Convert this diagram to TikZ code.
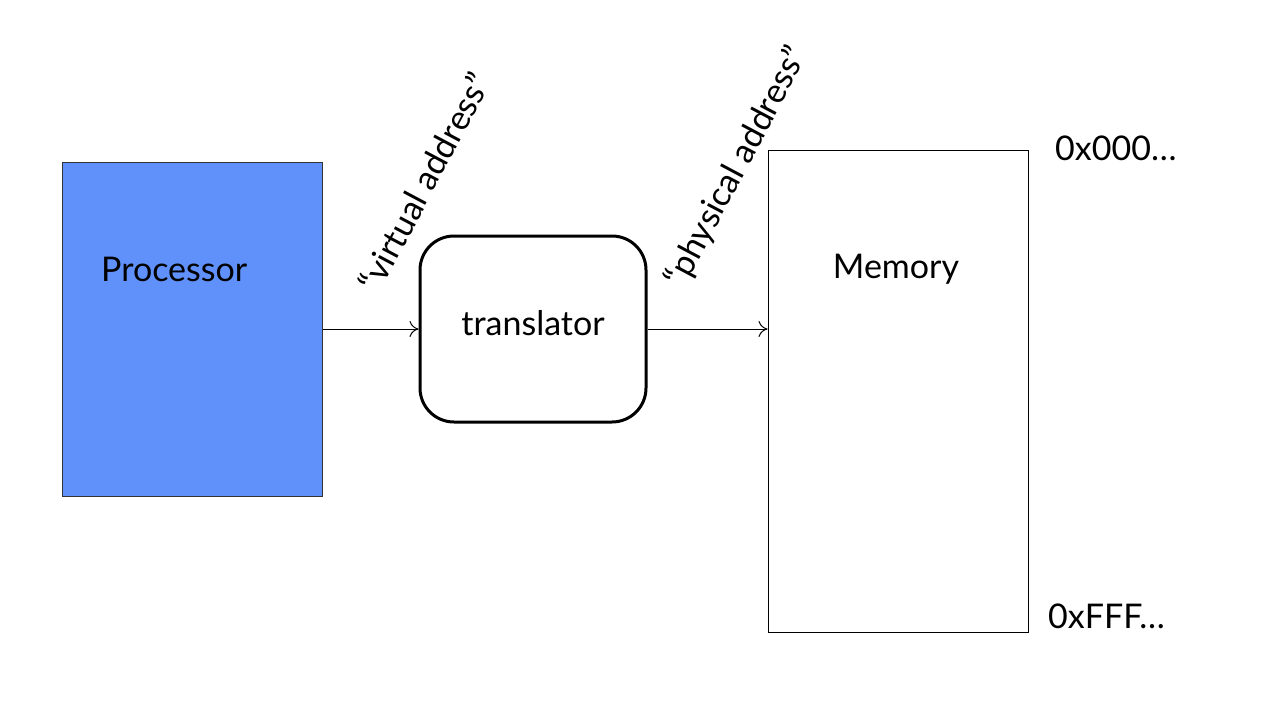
\documentclass[tikz,border=0pt]{standalone}
\usepackage{fontspec}
\setmainfont{Lato}
\usetikzlibrary{arrows.meta}
\begin{document}
\begin{tikzpicture}[x=1pt,y=-1pt,
  lbl/.style={font=\fontsize{34}{38}\selectfont, inner sep=0pt},
  conn/.style={-{To[length=9pt,width=16pt]}, line width=1pt}
]
\useasboundingbox (0,0) rectangle (1276,704);
\definecolor{procblue}{HTML}{6090FA}
\node[draw=black!80, fill=procblue, line width=1pt, minimum width=260pt, minimum height=334pt, inner sep=0pt] (proc) at (192,329) {};
\node[lbl, anchor=west] (proctxt) at (101,269) {Processor};
\node[draw, line width=3pt, rounded corners=34pt, minimum width=226pt, minimum height=186pt, inner sep=0pt] (trans) at (533,329) {};
\node[lbl] (transtxt) at (533,323) {translator};
\node[draw, line width=1pt, minimum width=260pt, minimum height=482pt, inner sep=0pt] (mem) at (898,391) {};
\node[lbl] (memtxt) at (896,269) {Memory};
\node[lbl, anchor=west] (top) at (1055,148) {0x000…};
\node[lbl, anchor=west] (bot) at (1048,616) {0xFFF…};
\draw[conn] (proc.east |- 0,329) -- (trans.west |- 0,329);
\draw[conn] (trans.east |- 0,329) -- (mem.west |- 0,329);
\node[lbl, rotate=62] (va) at (424,182) {“virtual address”};
\node[lbl, rotate=62] (pa) at (737,167) {“physical address”};
\end{tikzpicture}
\end{document}
